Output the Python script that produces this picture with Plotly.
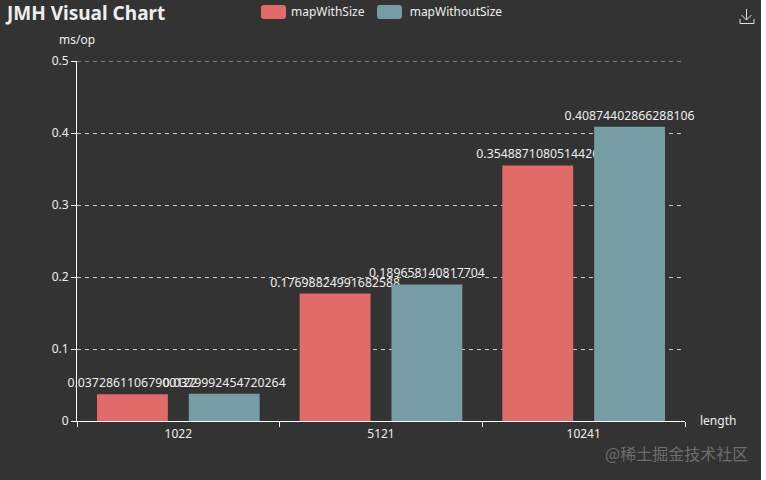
import plotly.graph_objects as go

categories = ["1022", "5121", "10241"]
map_with_size = [0.03728611067900122, 0.17698824991682588, 0.3548871080514426]
map_without_size = [0.0379992454720264, 0.189658140817704, 0.40874402866288106]
y_ticks = [0, 0.1, 0.2, 0.3, 0.4, 0.5]
y_tick_labels = ["0", "0.1", "0.2", "0.3", "0.4", "0.5"]

W, H = 766, 480
BG = "#333333"
RED = "#E06B69"
TEAL = "#769DA3"
TXT = "#EEEEEE"
FONT = "Noto Sans"
ML, MR, MT, MB = 77, 81, 61, 59


def px(x):
    return (x - ML) / (W - ML - MR)


def py(y):
    return (H - MB - y) / (H - MT - MB)


def rounded(x0, y0, x1, y1, r=3):
    return (f"M{px(x0 + r)},{py(y0)} L{px(x1 - r)},{py(y0)} Q{px(x1)},{py(y0)} {px(x1)},{py(y0 + r)} "
            f"L{px(x1)},{py(y1 - r)} Q{px(x1)},{py(y1)} {px(x1 - r)},{py(y1)} L{px(x0 + r)},{py(y1)} "
            f"Q{px(x0)},{py(y1)} {px(x0)},{py(y1 - r)} L{px(x0)},{py(y0 + r)} Q{px(x0)},{py(y0)} {px(x0 + r)},{py(y0)} Z")


fig = go.Figure()
for name, vals, col in [("mapWithSize", map_with_size, RED), ("mapWithoutSize", map_without_size, TEAL)]:
    fig.add_bar(name=name, x=categories, y=vals, marker=dict(color=col, line_width=0),
                text=[str(v) for v in vals], textposition="outside", cliponaxis=False, constraintext="none",
                textfont=dict(color=TXT, size=12.3, family=FONT), textangle=0, hoverinfo="skip")

shapes = [
    dict(type="path", xref="paper", yref="paper", path=rounded(261, 5, 286, 19), fillcolor=RED, line_width=0, layer="below"),
    dict(type="path", xref="paper", yref="paper", path=rounded(377, 5, 402, 19), fillcolor=TEAL, line_width=0, layer="below"),
    # top gridline, which the axis drops at the end of its range
    dict(type="line", xref="paper", yref="y", x0=0, x1=1, y0=y_ticks[-1], y1=y_ticks[-1],
         line=dict(color="#CCCCCC", width=1, dash="4px,4px"), layer="below"),
    # download icon
    dict(type="path", xref="paper", yref="paper", line=dict(color="#DDDDDD", width=1),
         path=f"M{px(746.5)},{py(9)} L{px(746.5)},{py(20)} M{px(741.5)},{py(15)} L{px(746.5)},{py(20)} L{px(751.5)},{py(15)} "
              f"M{px(740)},{py(19)} L{px(740)},{py(23.5)} L{px(754)},{py(23.5)} L{px(754)},{py(19)}"),
    # white strip at the right edge of the screenshot
    dict(type="rect", xref="paper", yref="paper", x0=px(761), x1=px(767), y0=py(-1), y1=py(481),
         fillcolor="white", line_width=0, layer="above"),
]


def note(x, y, text, size=12, color=TXT, anchor="left", family=FONT, bold=False):
    return dict(xref="paper", yref="paper", x=px(x), y=py(y), text=f"<b>{text}</b>" if bold else text, showarrow=False,
                xanchor=anchor, yanchor="middle", font=dict(size=size, color=color, family=family))


fig.update_layout(
    width=W, height=H, autosize=False,
    paper_bgcolor=BG, plot_bgcolor=BG,
    margin=dict(l=ML, r=MR, t=MT, b=MB, pad=0, autoexpand=False),
    barmode="group", bargap=0.094, bargroupgap=0.228,
    font=dict(family=FONT, color=TXT, size=12),
    showlegend=True,
    legend=dict(orientation="h", xref="paper", yref="paper", x=px(251), y=py(-3), xanchor="left", yanchor="top",
                bgcolor="rgba(0,0,0,0)", font=dict(size=12, color=TXT, family=FONT),
                itemclick=False, itemdoubleclick=False),
    xaxis=dict(type="category", range=[-0.5, 2.5], showline=True, linecolor="white", linewidth=1,
               ticks="outside", tickson="boundaries", ticklen=5, tickcolor="white", showgrid=False,
               ticklabelstandoff=2, tickfont=dict(size=12, color=TXT), zeroline=False),
    yaxis=dict(range=[0, 0.5], tickvals=y_ticks, ticktext=y_tick_labels, showline=True, linecolor="white", linewidth=1,
               ticks="outside", ticklen=5, tickcolor="white", showgrid=True, gridcolor="#CCCCCC", griddash="4px,4px",
               gridwidth=1, zeroline=False, tickfont=dict(size=12, color=TXT)),
    shapes=shapes,
    annotations=[
        note(3, 13, "JMH Visual Chart", size=19, color="#EEEEEE", bold=True),
        note(57, 39, "ms/op", size=12),
        note(698, 420, "length", size=12),
        note(603, 453, "@稀土掘金技术社区", size=16, color="#6E6E6E", family="Noto Sans CJK SC"),
    ],
    hovermode=False,
)
fig.write_html("out.html", config={"displayModeBar": False},
               post_script="document.body.style.margin='0';document.documentElement.style.overflow='hidden';")
